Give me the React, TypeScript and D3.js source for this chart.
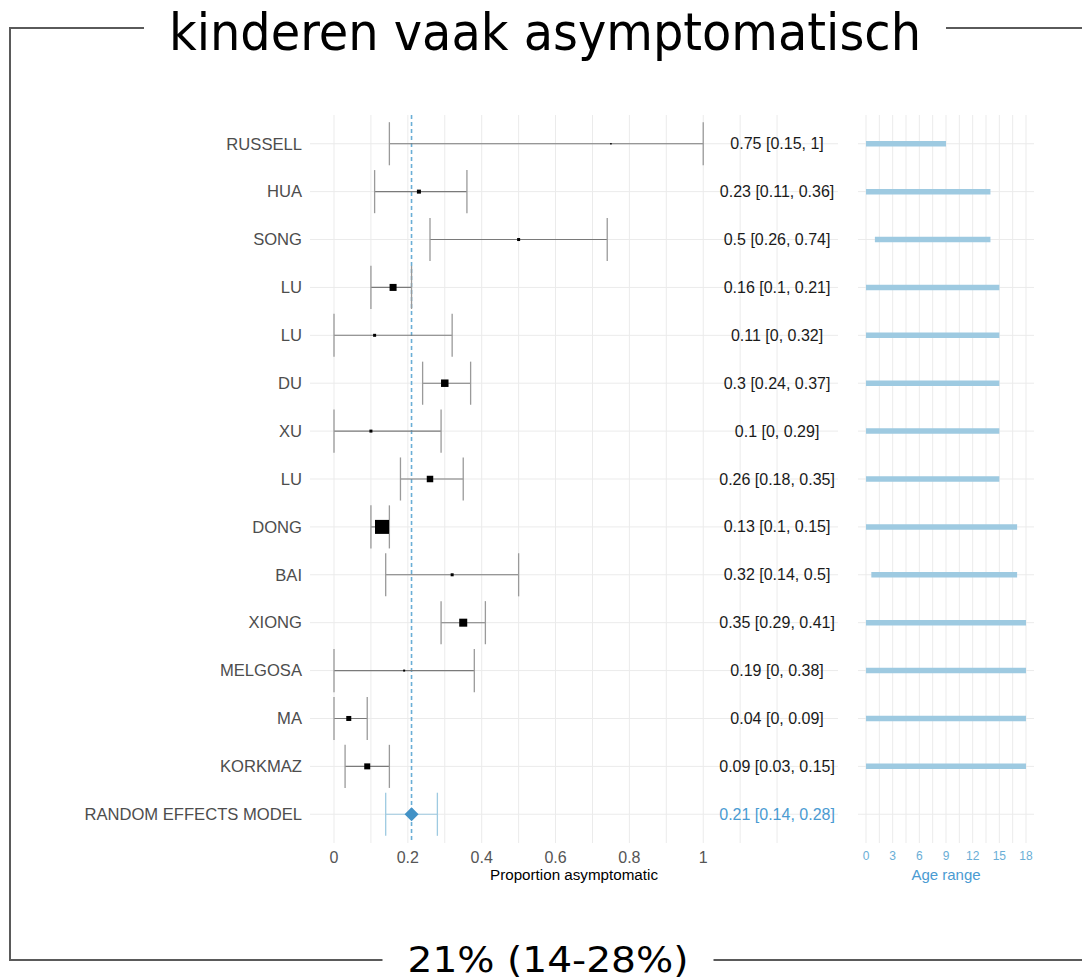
import React from 'react';
import * as d3 from 'd3';

// study rows, top to bottom (last one is the pooled estimate)
const studies = ['RUSSELL', 'HUA', 'SONG', 'LU', 'LU', 'DU', 'XU', 'LU', 'DONG', 'BAI', 'XIONG', 'MELGOSA', 'MA', 'KORKMAZ', 'RANDOM EFFECTS MODEL'];
const estimate = [0.75, 0.23, 0.5, 0.16, 0.11, 0.3, 0.1, 0.26, 0.13, 0.32, 0.35, 0.19, 0.04, 0.09, 0.21];
const lower = [0.15, 0.11, 0.26, 0.1, 0, 0.24, 0, 0.18, 0.1, 0.14, 0.29, 0, 0, 0.03, 0.14];
const upper = [1, 0.36, 0.74, 0.21, 0.32, 0.37, 0.29, 0.35, 0.15, 0.5, 0.41, 0.38, 0.09, 0.15, 0.28];
// relative study weight (drives the square size)
const weight = [2, 16, 9, 49, 9, 56, 9, 42, 196, 9, 64, 4, 25, 36];
// age range per study
const ageMin = [0, 0, 1, 0, 0, 0, 0, 0, 0, 0.6, 0, 0, 0, 0];
const ageMax = [9, 14, 14, 15, 15, 15, 15, 15, 17, 17, 18, 18, 18, 18];

const propTicks = [0, 0.2, 0.4, 0.6, 0.8, 1];
const ageTicks = [0, 3, 6, 9, 12, 15, 18];

const title = 'kinderen vaak asymptomatisch';
const subtitle = '21% (14-28%)';

const W = 1082;
const H = 980;
const top = 115;
const bottom = 843;

const BLUE = '#4a9bd2';
const LIGHT = '#9ecae1';
const GRID = '#ebebeb';

const App = () => {
  const idx = studies.map((_, i) => i);
  const y = d3.scalePoint<number>().domain(idx).range([top, bottom]).padding(0.6);
  const step = y.step();

  const x = d3.scaleLinear().domain([-0.065, 1.365]).range([310, 838]);
  const xa = d3.scaleLinear().domain([-0.9, 18.9]).range([858, 1034]);
  const size = d3.scaleSqrt().domain([0, d3.max(weight) as number]).range([0, 14]);

  const pooled = studies.length - 1;
  const fmt = (i: number) => `${estimate[i]} [${lower[i]}, ${upper[i]}]`;

  const propGrid = d3.range(0, 13).map(d => d / 10);
  const ageGrid = d3.range(0, 13).map(d => d * 1.5);

  const titleLen = 752;
  const titleX = 545;
  const subLen = 281;
  const subX = 548;
  const pad = 25;
  const frameTop = 28;
  const frameBottom = 960;
  const frameLeft = 10;

  const panelMid = (x.range()[0] + x.range()[1]) / 2;
  const agePanelMid = (xa.range()[0] + xa.range()[1]) / 2;

  return (
    <svg width={W} height={H} style={{ position: 'absolute', left: 0, top: 0, background: '#fff' }}
      fontFamily="'Liberation Sans', Arial, sans-serif">
      {/* frame */}
      <g stroke="#5a5a5a" strokeWidth={2} fill="none">
        <line x1={frameLeft} x2={titleX - titleLen / 2 - pad} y1={frameTop} y2={frameTop} />
        <line x1={titleX + titleLen / 2 + pad} x2={W} y1={frameTop} y2={frameTop} />
        <line x1={frameLeft} x2={frameLeft} y1={frameTop - 1} y2={frameBottom + 1} />
        <line x1={frameLeft} x2={subX - subLen / 2 - pad} y1={frameBottom} y2={frameBottom} />
        <line x1={subX + subLen / 2 + pad} x2={W} y1={frameBottom} y2={frameBottom} />
      </g>
      <text x={titleX} y={50} textAnchor="middle" fontFamily="'DejaVu Sans Condensed', 'DejaVu Sans', sans-serif"
        fontSize={52} textLength={titleLen} lengthAdjust="spacingAndGlyphs" fill="#000">{title}</text>
      <text x={subX} y={972} textAnchor="middle" fontFamily="'DejaVu Sans', sans-serif" fontSize={36}
        textLength={subLen} lengthAdjust="spacingAndGlyphs" fill="#000">{subtitle}</text>

      {/* forest panel grid */}
      <g stroke={GRID} strokeWidth={1}>
        {propGrid.map(d => (
          <line key={'v' + d} x1={x(d)} x2={x(d)} y1={top} y2={bottom} />
        ))}
        {idx.map(i => (
          <line key={'h' + i} x1={x.range()[0]} x2={x.range()[1]} y1={y(i)} y2={y(i)} />
        ))}
      </g>

      {/* age panel grid */}
      <g stroke={GRID} strokeWidth={1}>
        {ageGrid.map(d => (
          <line key={'av' + d} x1={xa(d)} x2={xa(d)} y1={top} y2={bottom} />
        ))}
        {idx.map(i => (
          <line key={'ah' + i} x1={xa.range()[0]} x2={xa.range()[1]} y1={y(i)} y2={y(i)} />
        ))}
      </g>

      {/* pooled estimate reference line */}
      <line x1={x(estimate[pooled])} x2={x(estimate[pooled])} y1={top} y2={bottom}
        stroke="#6aaed6" strokeWidth={1.6} strokeDasharray="4,3" />

      {/* confidence intervals */}
      {idx.map(i => {
        const yy = y(i) as number;
        const c = i === pooled ? LIGHT : '#7a7a7a';
        const cap = i === pooled ? LIGHT : '#9a9a9a';
        const h = step * 0.45;
        return (
          <g key={'ci' + i}>
            <line x1={x(lower[i])} x2={x(upper[i])} y1={yy} y2={yy} stroke={c} strokeWidth={1.1} />
            <line x1={x(lower[i])} x2={x(lower[i])} y1={yy - h} y2={yy + h} stroke={cap} strokeWidth={1.3} />
            <line x1={x(upper[i])} x2={x(upper[i])} y1={yy - h} y2={yy + h} stroke={cap} strokeWidth={1.3} />
          </g>
        );
      })}

      {/* study squares */}
      {weight.map((w, i) => {
        const s = Math.max(size(w), 1.5);
        return (
          <rect key={'sq' + i} x={x(estimate[i]) - s / 2} y={(y(i) as number) - s / 2}
            width={s} height={s} fill="#000" />
        );
      })}

      {/* pooled diamond */}
      <path
        d={`M${x(estimate[pooled])},${(y(pooled) as number) - 7} l7,7 l-7,7 l-7,-7 Z`}
        fill="#4292c6" />

      {/* study labels */}
      {studies.map((s, i) => (
        <text key={'lab' + i} x={302} y={(y(i) as number) + 5.8} textAnchor="end" fontSize={16.6}
          fill="#4d4d4d">{s}</text>
      ))}

      {/* estimate text */}
      {idx.map(i => (
        <text key={'est' + i} x={x(1.2)} y={(y(i) as number) + 5.6} textAnchor="middle" fontSize={16}
          fill={i === pooled ? BLUE : '#1a1a1a'}>{fmt(i)}</text>
      ))}

      {/* age bars */}
      {ageMin.map((a, i) => (
        <line key={'age' + i} x1={xa(a)} x2={xa(ageMax[i])} y1={y(i)} y2={y(i)}
          stroke={LIGHT} strokeWidth={5.5} />
      ))}

      {/* axes */}
      {propTicks.map(t => (
        <text key={'pt' + t} x={x(t)} y={863} textAnchor="middle" fontSize={16} fill="#555">{String(t)}</text>
      ))}
      <text x={panelMid} y={880} textAnchor="middle" fontSize={15.2} fill="#000">Proportion asymptomatic</text>

      {ageTicks.map(t => (
        <text key={'at' + t} x={xa(t)} y={860} textAnchor="middle" fontSize={12} fill="#6aaed6">{String(t)}</text>
      ))}
      <text x={agePanelMid} y={880} textAnchor="middle" fontSize={15} fill={BLUE}>Age range</text>
    </svg>
  );
};

export default App;
